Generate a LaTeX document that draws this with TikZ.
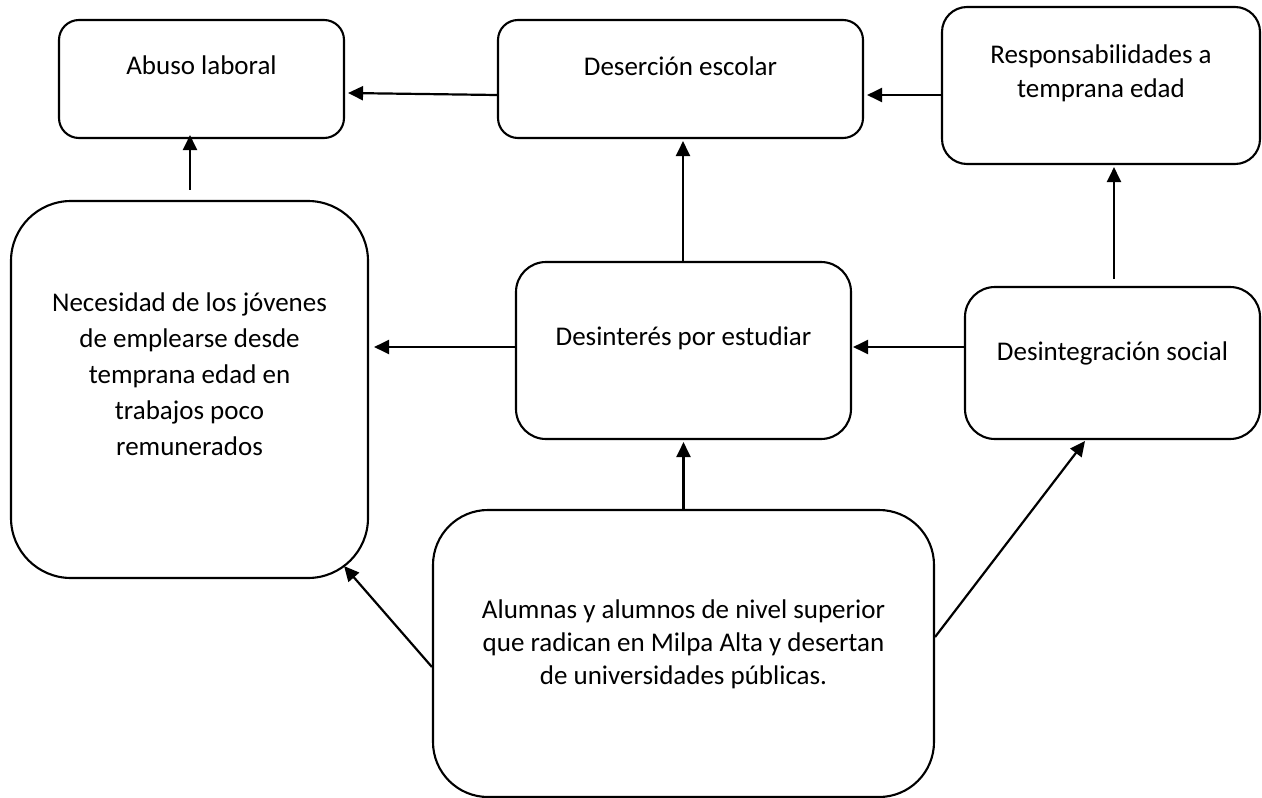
\documentclass[tikz,border=0pt]{standalone}
\usepackage{fontspec}
\setmainfont{Carlito}
\usetikzlibrary{arrows.meta,calc}
\newcommand\fbtext[4]{\parbox[c][#2][t]{#1}{\centering\rule{0pt}{#3}#4}}
\begin{document}
\begin{tikzpicture}[x=1pt,y=1pt,
  cbox/.style={draw=black, line width=2.1pt, rounded corners=#1, inner sep=0pt, font=\fontsize{27}{36}\selectfont},
  arr/.style={line width=2.2pt, -{Triangle[length=15pt,width=14pt]}}]
\fill[white] (0,0) rectangle (1262,-798);
\useasboundingbox (0,0) rectangle (1262,-798);

\node[cbox=20pt] (abuso) at (201.5,-79) {\fbtext{285pt}{118pt}{54pt}{Abuso laboral}};
\node[cbox=20pt] (deser) at (680.5,-79) {\fbtext{365pt}{118pt}{55pt}{Deserción escolar}};
\node[cbox=25pt,font=\fontsize{27}{34}\selectfont] (resp) at (1101,-85.5) {\fbtext{318pt}{157pt}{56pt}{Responsabilidades a\\temprana edad}};
\node[cbox=60pt] (neces) at (189.5,-389.5) {\fbtext{357pt}{377pt}{110pt}{Necesidad de los jóvenes\\de emplearse desde\\temprana edad en\\trabajos poco\\remunerados}};
\node[cbox=30pt] (desint) at (683.5,-350.5) {\fbtext{335pt}{177pt}{83pt}{Desinterés por estudiar}};
\node[cbox=30pt] (desintegr) at (1112.5,-363) {\fbtext{295pt}{152pt}{73pt}{Desintegración social}};
\node[cbox=55pt,font=\fontsize{27}{33}\selectfont] (alum) at (683.5,-653.5) {\fbtext{501pt}{287pt}{108pt}{Alumnas y alumnos de nivel superior\\que radican en Milpa Alta y desertan\\de universidades públicas.}};

\draw[arr] ($(deser.west)+(0,-16)$) -- ($(abuso.east)+(3,-14)$);
\draw[arr] ($(resp.west)+(0,-9.5)$) -- ($(deser.east)+(3,-16)$);
\draw[arr] ($(neces.north)+(0.5,10)$) -- ($(abuso.south)+(-11.5,4)$);
\draw[arr] ($(desint.north)+(-0.5,0)$) -- ($(deser.south)+(2.5,-2)$);
\draw[arr] ($(desintegr.north)+(1.5,7)$) -- ($(resp.south)+(13,-2)$);
\draw[arr] ($(desint.west)+(0,3.5)$) -- ($(neces.east)+(5,42.5)$);
\draw[arr] ($(desintegr.west)+(0,16)$) -- ($(desint.east)+(1,3.5)$);
\draw[arr] (alum.north) -- ($(desint.south)+(0,-2)$);
\draw[arr] ($(alum.west)+(0,-13.5)$) -- ($(neces.south east)+(-25,13)$);
\draw[arr] ($(alum.east)+(0,16.5)$) -- ($(desintegr.south)+(-27.5,-1)$);
\end{tikzpicture}
\end{document}
